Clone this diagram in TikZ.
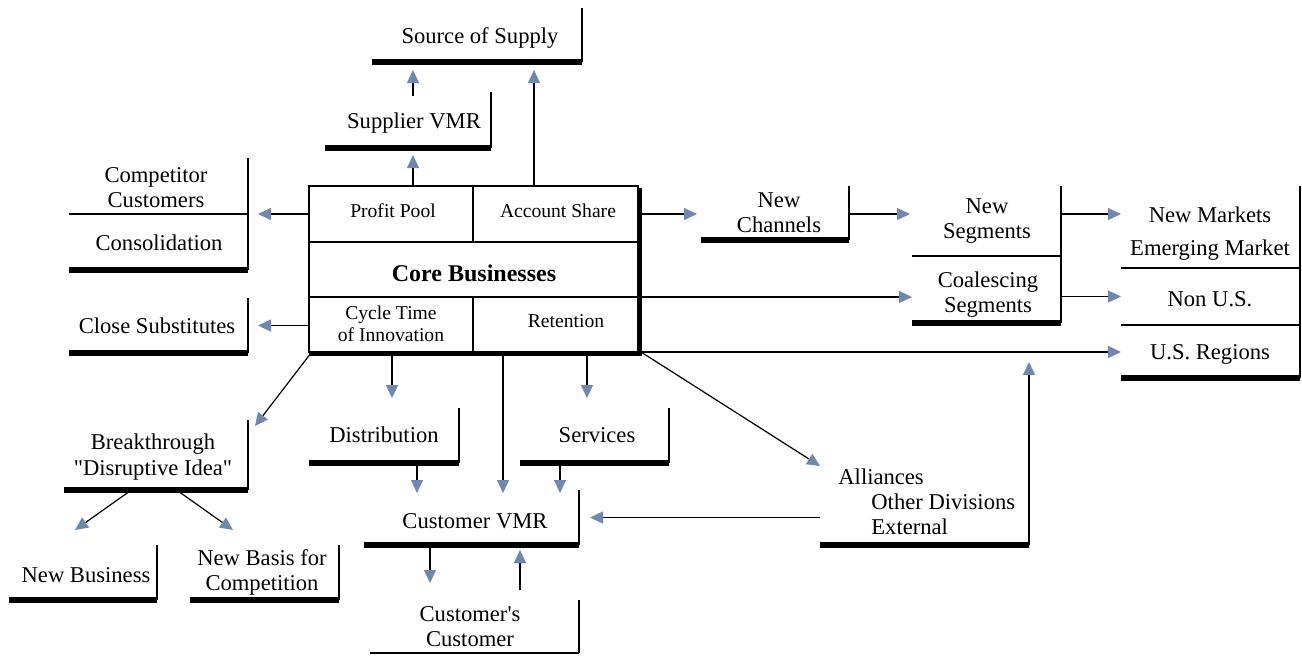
\documentclass[tikz,border=0pt]{standalone}
\usepackage{fontspec}
\setmainfont{Liberation Serif}
\usetikzlibrary{arrows.meta,fit,calc}
\definecolor{ablue}{RGB}{110,136,178}
\tikzset{
  area/.style={inner sep=0pt, outer sep=0pt, draw=none, fit={#1}},
  lab/.style={inner sep=0pt, align=center, yshift=-1pt, font=\fontsize{11.3}{12.5}\selectfont},
  cell/.style={inner sep=0pt, align=center, yshift=-0.5pt, font=\fontsize{9.8}{11}\selectfont},
  ln/.style={line width=0.6pt},
  heavy/.style={line width=2.6pt},
  arr/.style={line width=0.6pt, -{Triangle[length=6.5pt,width=6pt,color=ablue,fill=ablue]}},
}
\newcommand\LB[1]{\draw[heavy] (#1.south west) -- (#1.south east); \draw[ln] (#1.north east) -- (#1.south east);}
\begin{document}
\begin{tikzpicture}[x=0.5pt,y=-0.5pt]
\useasboundingbox (0,0) rectangle (1302,655);
% ---------- core box cells ----------
\node[area={(309,186) (473,242)}] (pp) {};
\node[area={(473,186) (638,242)}] (as) {};
\node[area={(309,242) (638,297)}] (cb) {};
\node[area={(309,297) (473,352)}] (ct) {};
\node[area={(473,297) (638,352)}] (rt) {};
\draw[ln] (pp.north west) rectangle (rt.south east);
\draw[ln] (cb.north west) -- (cb.north east);
\draw[ln] (cb.south west) -- (cb.south east);
\draw[ln] (pp.north east) -- (pp.south east);
\draw[ln] (ct.north east) -- (ct.south east);
\draw[line width=2pt] ($(as.north east)+(2,2)$) -- ($(rt.south east)+(2,2)$) -- ($(ct.south west)+(0,2)$);
\node[cell] (ppt) at (393,210) {Profit Pool};
\node[cell] (ast) at (558,210) {Account Share};
\node[inner sep=0pt, yshift=-1pt, font=\fontsize{12}{13}\selectfont\bfseries] (cbt) at (474,271) {Core Businesses};
\node[cell] (ctt) at (391,323) {Cycle Time\\of Innovation};
\node[cell] (rtt) at (566,320) {Retention};
% ---------- label boxes ----------
\node[area={(372,8) (582,62)}] (sos) {};
\node[lab] (sost) at (480,36) {Source of Supply};
\LB{sos}
\node[area={(325,92) (491,148)}] (sup) {};
\node[lab] (supt) at (414,121) {Supplier VMR};
\LB{sup}
\node[area={(69,158) (248,214)}] (comp) {};
\node[area={(69,214) (248,270)}] (cons) {};
\node[lab] (compt) at (156,186) {Competitor\\Customers};
\node[lab] (const) at (159,241) {Consolidation};
\draw[ln] (comp.south west) -- (comp.south east);
\draw[ln] (comp.north east) -- (cons.south east);
\draw[heavy] (cons.south west) -- (cons.south east);
\node[area={(69,298) (248,353)}] (cs) {};
\node[lab] (cst) at (157,324) {Close Substitutes};
\LB{cs}
\node[area={(701,186) (849,240)}] (nc) {};
\node[lab] (nct) at (779,211) {New\\Channels};
\LB{nc}
\node[area={(912,186) (1061,256)}] (ns) {};
\node[area={(912,256) (1061,323)}] (cseg) {};
\node[lab] (nst) at (987,219) {New\\Segments};
\node[lab] (csegt) at (988,293) {Coalescing\\Segments};
\draw[ln] (ns.south west) -- (ns.south east);
\draw[ln] (ns.north east) -- (cseg.south east);
\draw[heavy] (cseg.south west) -- (cseg.south east);
\node[area={(1121,186) (1300,268)}] (nm) {};
\node[area={(1121,268) (1300,325)}] (nonus) {};
\node[area={(1121,325) (1300,378)}] (usr) {};
\node[lab, font=\fontsize{11.3}{16.5}\selectfont] (nmt) at (1210,232) {New Markets\\Emerging Market};
\node[lab] (nonust) at (1210,297) {Non U.S.};
\node[lab] (usrt) at (1210,352) {U.S. Regions};
\draw[ln] (nm.south west) -- (nm.south east);
\draw[ln] (nonus.south west) -- (nonus.south east);
\draw[ln] (nm.north east) -- (usr.south east);
\draw[heavy] (usr.south west) -- (usr.south east);
\node[area={(820,466) (1029,545)}] (all) {};
\node[lab, align=left, anchor=west] (allt) at (838,500) {Alliances\\\hspace*{16.5pt}Other Divisions\\\hspace*{16.5pt}External};
\draw[heavy] (all.south west) -- (all.south east);
\node[area={(309,408) (459,463)}] (dist) {};
\node[lab] (distt) at (384,433) {Distribution};
\LB{dist}
\node[area={(520,408) (669,463)}] (serv) {};
\node[lab] (servt) at (597,433) {Services};
\LB{serv}
\node[area={(364,490) (579,545)}] (cvmr) {};
\node[lab] (cvmrt) at (475,519) {Customer VMR};
\LB{cvmr}
\node[area={(370,600) (579,653)}] (cc) {};
\node[lab] (cct) at (470,625) {Customer\textquotesingle s\\Customer};
\draw[line width=1pt] (cc.south west) -- (cc.south east);
\draw[ln] (cc.north east) -- (cc.south east);
\node[area={(64,420) (248,490)}] (bt) {};
\node[lab, font=\fontsize{11.3}{12.8}\selectfont] (btt) at (153,455) {Breakthrough\\\textquotedbl Disruptive Idea\textquotedbl};
\LB{bt}
\node[area={(9,545) (157,600)}] (nb) {};
\node[lab] (nbt) at (86,573) {New Business};
\LB{nb}
\node[area={(190,545) (339,600)}] (nbc) {};
\node[lab] (nbct) at (262,570) {New Basis for\\Competition};
\LB{nbc}
% ---------- connectors ----------
\draw[arr] ($(sup.north)+(5,4)$) -- ($(sos.south)+(-64,8)$);
\draw[arr] ($(pp.north)+(22,0)$) -- ($(sup.south)+(5,7)$);
\draw[arr] ($(as.north)+(-21.5,0)$) -- ($(sos.south)+(57,8)$);
\draw[arr] (pp.west) -- ($(comp.south east)+(10,0)$);
\draw[arr] (ct.west |- cs.east) -- ($(cs.east)+(10,0)$);
\draw[arr] (as.east) -- ($(nc.west)+(-4,1)$);
\draw[arr] ($(nc.east)+(0,1)$) -- ($(ns.west)+(-2,-7)$);
\draw[arr] ($(cb.south east)+(2,0)$) -- (cb.south east -| cseg.west);
\draw[arr] ($(ns.east)+(0,-7)$) -- ($(nm.west)+(0,-13)$);
\draw[arr] (cseg.east |- nonus.west) -- (nonus.west);
\draw[arr] ($(rt.south east)+(3,0)$) -- (usr.west |- rt.south east);
\draw[arr] ($(rt.south east)+(3,0)$) -- (all.north west);
\draw[arr] (all.south east) -- ($(usr.south west)+(-92,-16)$);
\draw[arr] (all.west |- cvmr.east) -- ($(cvmr.east)+(11,0)$);
\draw[arr] ($(ct.south)+(1,0)$) -- ($(dist.north)+(8,-10)$);
\draw[arr] ($(rt.south)+(31.5,0)$) -- ($(serv.north)+(-7.5,-10)$);
\draw[arr] ($(dist.south)+(33,0)$) -- ($(cvmr.north)+(-54.5,3)$);
\draw[arr] ($(rt.south)+(-52.5,0)$) -- ($(cvmr.north)+(31.5,3)$);
\draw[arr] ($(serv.south)+(-34.5,0)$) -- ($(cvmr.north)+(88.5,3)$);
\draw[arr] ($(cvmr.south)+(-41.5,0)$) -- ($(cc.north)+(-44.5,-17)$);
\draw[arr] ($(cc.north)+(45.5,-10)$) -- ($(cvmr.south)+(48.5,5)$);
\draw[arr] ($(ct.south west)+(2,1)$) -- ($(bt.north east)+(7,6)$);
\draw[arr] ($(bt.south)+(-26,1)$) -- ($(nb.north)+(-8,-15)$);
\draw[arr] ($(bt.south)+(22,1)$) -- ($(nbc.north)+(-31.5,-15)$);
\end{tikzpicture}
\end{document}
